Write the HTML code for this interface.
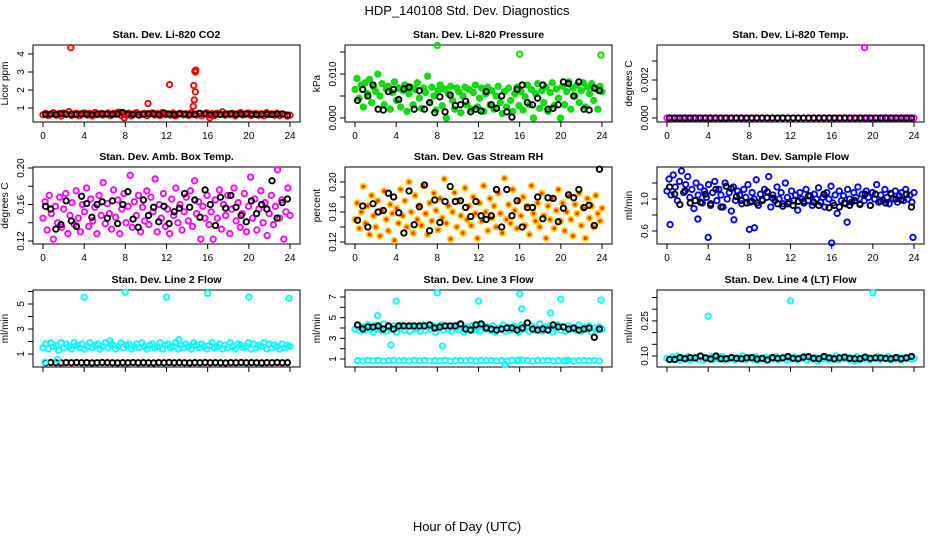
<!DOCTYPE html>
<html><head><meta charset="utf-8">
<style>
html,body{margin:0;padding:0;background:#fff;}
svg{display:block;font-family:"Liberation Sans",Arial,sans-serif;}
</style></head>
<body>
<svg id="chart" width="936" height="540" viewBox="0 0 936 540" xmlns="http://www.w3.org/2000/svg">
<rect width="936" height="540" fill="#fff"/>
<text x="467" y="15" font-size="13" text-anchor="middle">HDP_140108  Std. Dev. Diagnostics</text>
<text x="467" y="531" font-size="13" text-anchor="middle">Hour of Day (UTC)</text>
</svg>
<script>
// ---- data ----
const co2Red = [0.62,0.70,0.58,0.66,0.74,0.60,0.68,0.55,0.72,0.64,0.80,0.59,0.67,0.71,0.57,0.65,0.73,0.61,0.69,0.56,0.75,0.63,0.68,0.60,0.66,0.72,0.58,0.70,0.64,0.77,0.59,0.67,0.62,0.71,0.56,0.68,0.74,0.60,0.65,0.70,0.57,0.66,0.73,0.61,0.69,0.58,0.75,0.63,0.67,0.60,0.72,0.56,0.66,0.70,0.62,0.68,0.59,0.74,0.64,0.60,0.70,0.57,0.66,0.73,0.61,0.68,0.58,0.71,0.64,0.79,0.60,0.67,0.62,0.70,0.56,0.69,0.74,0.61,0.66,0.72,0.58,0.65,0.70,0.60,0.68,0.57,0.74,0.63,0.67,0.60,0.71,0.58,0.66,0.62,0.55,0.60];
const co2Black = [0.65,0.66,0.64,0.68,0.66,0.65,0.63,0.67,0.66,0.64,0.66,0.68,0.66,0.65,0.67,0.75,0.66,0.64,0.62,0.66,0.68,0.67,0.64,0.72,0.66,0.63,0.68,0.66,0.64,0.66,0.70,0.67,0.62,0.66,0.65,0.66,0.68,0.64,0.66,0.67,0.66,0.63,0.65,0.66,0.64,0.66,0.67,0.60];
const co2OutHours = [2.7,10.2,12.3,14.6,14.7,14.8,14.65,14.75,14.85,14.8,7.9,16.2];
const co2OutValues = [4.35,1.25,2.3,1.1,1.45,1.9,2.25,3.05,3.1,3.0,0.45,0.45];

const presGreen = [0.0065,0.0090,0.0045,0.0075,0.0025,0.0080,0.0055,0.0088,0.0035,0.0070,0.0060,0.0100,0.0050,0.0078,0.0030,0.0066,0.0072,0.0020,0.0058,0.0082,0.0040,0.0068,0.0025,0.0062,0.0075,0.0015,0.0055,0.0070,0.0030,0.0065,0.0080,0.0045,0.0022,0.0068,0.0058,0.0095,0.0035,0.0070,0.0050,0.0018,0.0062,0.0075,0.0028,0.0066,0.0000,0.0055,0.0072,0.0040,0.0020,0.0068,0.0060,0.0012,0.0050,0.0070,0.0030,0.0065,0.0020,0.0058,0.0075,0.0025,0.0045,0.0068,0.0015,0.0055,0.0070,0.0030,0.0062,0.0020,0.0050,0.0072,0.0035,0.0010,0.0060,0.0025,0.0068,0.0040,0.0015,0.0055,0.0070,0.0028,0.0060,0.0018,0.0048,0.0075,0.0030,0.0065,0.0000,0.0055,0.0078,0.0022,0.0062,0.0035,0.0070,0.0015,0.0058,0.0080,0.0028,0.0066,0.0045,0.0000,0.0072,0.0030,0.0060,0.0082,0.0020,0.0068,0.0050,0.0075,0.0035,0.0062,0.0080,0.0025,0.0070,0.0055,0.0078,0.0040,0.0066,0.0020,0.0072,0.0060];
const presBlack = [0.0040,0.0065,0.0050,0.0075,0.0020,0.0018,0.0060,0.0065,0.0042,0.0066,0.0070,0.0020,0.0062,0.0020,0.0035,0.0012,0.0048,0.0014,0.0052,0.0028,0.0030,0.0038,0.0014,0.0020,0.0016,0.0060,0.0030,0.0022,0.0050,0.0014,0.0002,0.0065,0.0075,0.0035,0.0030,0.0045,0.0075,0.0020,0.0022,0.0030,0.0082,0.0078,0.0050,0.0082,0.0020,0.0018,0.0068,0.0062];
const presOutHours = [8.0,16.0,23.9];
const presOutValues = [0.0165,0.0145,0.0143];

const tempMag = [0,0,0,0,0,0,0,0,0,0,0,0,0,0,0,0,0,0,0,0,0,0,0,0,0,0,0,0,0,0,0,0,0,0,0,0,0,0,0,0,0,0,0,0,0,0,0,0];
const tempBlack = [0,0,0,0,0,0,0,0,0,0,0,0,0,0,0,0,0,0,0,0,0,0,0,0,0,0,0,0,0,0,0,0,0,0,0,0,0,0,0,0,0,0,0,0,0,0,0,0];
const tempOutHours = [19.2];
const tempOutValues = [0.0037];

const ambMag = [0.145,0.163,0.132,0.170,0.150,0.122,0.158,0.140,0.168,0.135,0.155,0.172,0.128,0.148,0.162,0.138,0.175,0.145,0.130,0.160,0.152,0.178,0.136,0.166,0.142,0.157,0.128,0.170,0.148,0.184,0.139,0.161,0.150,0.133,0.176,0.146,0.165,0.128,0.155,0.172,0.140,0.158,0.192,0.135,0.163,0.148,0.170,0.130,0.157,0.142,0.175,0.138,0.168,0.152,0.188,0.130,0.160,0.145,0.172,0.136,0.155,0.128,0.166,0.148,0.178,0.140,0.160,0.132,0.152,0.168,0.142,0.175,0.136,0.186,0.150,0.163,0.122,0.158,0.145,0.170,0.138,0.152,0.122,0.165,0.145,0.176,0.133,0.160,0.148,0.170,0.128,0.155,0.178,0.142,0.162,0.135,0.150,0.172,0.130,0.158,0.190,0.145,0.166,0.132,0.155,0.175,0.140,0.162,0.126,0.150,0.170,0.138,0.158,0.198,0.145,0.165,0.122,0.152,0.178,0.148];
const ambBlack = [0.158,0.155,0.133,0.138,0.164,0.142,0.136,0.169,0.161,0.146,0.160,0.163,0.145,0.164,0.139,0.160,0.174,0.144,0.135,0.165,0.148,0.157,0.141,0.158,0.139,0.152,0.156,0.172,0.157,0.165,0.146,0.176,0.160,0.137,0.168,0.156,0.170,0.157,0.148,0.141,0.164,0.150,0.160,0.155,0.186,0.145,0.162,0.166];

const rhOrange = [0.150,0.172,0.138,0.160,0.194,0.145,0.168,0.130,0.182,0.155,0.140,0.175,0.128,0.162,0.188,0.150,0.135,0.170,0.158,0.122,0.165,0.145,0.190,0.155,0.175,0.140,0.200,0.160,0.132,0.182,0.150,0.168,0.142,0.195,0.158,0.130,0.172,0.148,0.185,0.162,0.136,0.178,0.152,0.204,0.145,0.168,0.124,0.160,0.186,0.140,0.175,0.155,0.132,0.192,0.150,0.168,0.142,0.180,0.158,0.125,0.172,0.148,0.195,0.160,0.135,0.178,0.152,0.168,0.140,0.185,0.158,0.132,0.205,0.150,0.170,0.145,0.190,0.162,0.138,0.175,0.155,0.180,0.142,0.168,0.130,0.195,0.158,0.148,0.172,0.140,0.185,0.155,0.125,0.168,0.150,0.178,0.138,0.162,0.190,0.148,0.172,0.135,0.160,0.182,0.150,0.128,0.170,0.158,0.185,0.142,0.165,0.125,0.178,0.152,0.168,0.140,0.182,0.158,0.148,0.165];
const rhBlack = [0.149,0.168,0.140,0.171,0.160,0.162,0.185,0.180,0.159,0.132,0.188,0.143,0.167,0.196,0.135,0.176,0.146,0.174,0.194,0.174,0.175,0.166,0.154,0.174,0.155,0.150,0.155,0.190,0.140,0.190,0.155,0.175,0.140,0.166,0.166,0.180,0.151,0.179,0.178,0.147,0.165,0.183,0.179,0.190,0.166,0.169,0.142,0.217];

const flowBlue = [1.10,1.25,1.05,1.30,1.15,0.98,1.22,1.35,1.08,1.18,1.28,1.02,1.12,0.88,1.20,1.05,1.15,0.95,1.10,1.02,1.18,0.92,1.08,1.22,0.98,1.12,1.05,0.90,1.20,1.00,1.08,0.85,1.15,0.98,1.10,1.05,0.94,1.12,1.02,1.18,0.96,1.08,1.00,1.24,0.92,1.06,0.98,1.12,1.02,1.28,0.90,1.05,0.98,1.15,1.00,1.08,0.94,1.20,1.02,0.96,1.10,0.98,1.05,0.86,1.08,1.00,0.95,1.12,0.98,1.04,0.92,1.06,1.00,1.14,0.96,1.02,0.90,1.08,1.00,1.16,0.95,1.05,0.82,1.10,0.98,1.04,0.94,1.12,1.00,0.96,1.08,1.02,1.15,0.94,1.06,0.98,1.10,1.02,0.92,1.08,1.00,1.18,0.96,1.05,0.98,1.12,1.02,0.94,1.06,1.00,1.10,0.96,1.04,1.08,0.98,1.12,1.00,1.05,0.96,1.08];
const flowBlack = [1.15,1.06,0.93,1.10,0.95,0.98,0.96,1.06,0.94,1.12,0.90,1.16,1.13,1.03,0.98,0.95,0.97,0.95,0.99,1.09,1.01,0.94,0.91,0.94,0.92,0.97,0.97,1.04,0.96,0.92,1.06,0.89,0.92,0.90,0.95,0.92,0.98,0.93,1.06,0.92,1.06,0.97,0.95,1.07,1.00,0.99,1.06,0.90];
const flowOutHours = [0.3,4.0,8.0,8.5,16.0,17.5,23.9,3.0,6.5];
const flowOutValues = [0.68,0.52,0.62,0.64,0.45,0.71,0.52,0.75,0.74];

const l2Band = [1.5,1.8,1.4,1.9,1.6,1.7,1.3,1.9,1.5,1.8,1.6,1.4,1.9,1.7,1.5,1.8,1.4,1.6,1.9,1.5,1.7,1.8,1.4,1.6,1.9,1.5,1.8,1.7,1.4,1.6,1.9,1.5,1.7,1.8,1.4,1.6,1.8,1.5,1.9,1.6,1.4,1.7,1.8,1.5,1.6,1.9,1.4,1.7,1.8,1.5,1.6,1.9,1.4,1.7,1.5,1.8,1.6,1.4,1.9,1.7,1.5,1.8,1.6,1.4,1.7,1.9,1.5,1.6,1.8,1.4,1.7,1.5,1.9,1.6,1.4,1.8,1.7,1.5,1.6,1.9,1.4,1.8,1.5,1.7,1.6,1.9,1.4,1.8,1.5,1.7,1.6,1.4,1.8,1.5,1.7,1.6];
const l2Black = [0.30,0.32,0.30,0.29,0.31,0.30,0.32,0.30,0.31,0.29,0.30,0.32,0.31,0.30,0.29,0.31,0.30,0.32,0.30,0.31,0.30,0.29,0.31,0.30,0.32,0.30,0.31,0.30,0.29,0.31,0.30,0.32,0.30,0.31,0.30,0.29,0.31,0.30,0.32,0.30,0.31,0.30,0.29,0.31,0.30,0.32,0.30,0.31];
const l2OutHours = [4.0,8.0,12.0,16.0,20.0,23.9,6.5,13.2,0.2,1.4];
const l2OutValues = [5.55,5.95,5.55,5.85,5.55,5.45,2.05,2.15,0.35,0.55];

const l3Band = [3.9,4.2,3.7,4.1,3.8,4.3,3.9,3.6,4.2,4.0,3.8,4.4,3.7,4.1,3.9,4.2,3.6,4.0,4.3,3.8,4.1,3.7,4.2,3.9,4.0,3.7,4.3,3.8,4.1,3.9,4.2,3.6,4.0,4.3,3.8,4.1,3.9,3.7,4.2,4.0,3.8,4.3,3.6,4.1,3.9,4.2,3.8,4.0,3.7,4.3,3.9,4.1,3.8,4.2,3.6,4.0,3.9,4.3,3.7,4.1,3.8,4.2,4.0,3.6,4.3,3.9,4.1,3.7,4.2,3.8,4.0,4.4,3.7,4.1,3.9,4.2,3.6,4.0,4.3,3.8,4.1,3.7,4.2,3.9,4.0,3.8,4.3,3.7,4.1,3.9,4.2,3.6,4.0,3.8,4.1,3.9];
const l3Low = [0.85,0.80,0.88,0.82,0.86,0.80,0.84,0.88,0.82,0.85,0.80,0.86,0.83,0.88,0.81,0.85,0.82,0.87,0.80,0.84,0.86,0.82,0.88,0.80,0.85,0.83,0.87,0.81,0.85,0.80,0.86,0.82,0.88,0.84,0.80,0.86,0.83,0.87,0.81,0.85,0.82,0.88,0.80,0.84,0.86,0.82,0.87,0.81];
const l3Black = [4.3,3.9,4.1,4.1,4.2,3.9,4.2,3.9,4.2,4.2,4.2,4.2,4.2,4.2,4.3,4.0,4.1,4.2,4.2,4.2,4.4,3.9,3.8,4.3,4.4,4.0,3.9,3.8,3.9,4.0,4.0,3.8,4.0,4.5,3.9,3.8,3.9,3.8,4.3,4.1,4.1,3.9,4.0,3.8,3.9,4.0,3.1,3.9];
const l3OutHours = [2.2,3.5,4.0,8.0,8.5,12.0,16.0,16.2,19.0,20.0,23.9,14.6,20.5,15.9];
const l3OutValues = [5.2,2.35,6.6,7.4,2.25,6.6,7.3,5.85,5.45,6.8,6.7,0.45,0.85,0.9];

const l4Band = [0.090,0.085,0.095,0.088,0.100,0.082,0.092,0.087,0.097,0.084,0.090,0.094,0.086,0.099,0.083,0.091,0.088,0.096,0.085,0.092,0.089,0.098,0.084,0.090,0.087,0.095,0.083,0.092,0.088,0.100,0.085,0.091,0.094,0.086,0.097,0.082,0.090,0.088,0.095,0.084,0.092,0.087,0.098,0.085,0.091,0.094,0.083,0.090,0.088,0.096,0.085,0.092,0.089,0.099,0.083,0.091,0.087,0.095,0.078,0.090,0.088,0.097,0.084,0.092,0.086,0.100,0.083,0.090,0.088,0.095,0.085,0.092,0.078,0.097,0.084,0.091,0.087,0.094,0.083,0.090,0.088,0.096,0.085,0.092,0.089,0.098,0.084,0.090,0.087,0.095,0.083,0.091,0.088,0.094,0.086,0.090];
const l4Black = [0.085,0.085,0.093,0.088,0.093,0.092,0.100,0.092,0.087,0.100,0.088,0.088,0.093,0.090,0.088,0.092,0.093,0.087,0.090,0.083,0.093,0.090,0.092,0.098,0.090,0.088,0.095,0.097,0.090,0.088,0.098,0.092,0.088,0.092,0.095,0.090,0.088,0.088,0.095,0.090,0.092,0.092,0.090,0.088,0.093,0.088,0.092,0.098];
const l4OutHours = [4.0,12.0,20.0];
const l4OutValues = [0.27,0.335,0.37];

const xTicks = [0,4,8,12,16,20,24];

// ---- drawing ----
const NS = 'http://www.w3.org/2000/svg';
const svg = document.getElementById('chart');
const colLeft = [33,345,657];
const rowTop = [45,167,290];
const BW = 267, BH = 77;

function mk(tag, attrs, parent) {
  const e = document.createElementNS(NS, tag);
  for (const k in attrs) e.setAttribute(k, attrs[k]);
  (parent || svg).appendChild(e);
  return e;
}

function panel(p) {
  const L = colLeft[p.col], T = rowTop[p.row], R = L + BW, B = T + BH;
  const g = mk('g', {});
  
  
  const xs = h => L + 10 + h * (BW - 20) / 24;
  const ys = v => B - (v - p.yMin) / (p.yMax - p.yMin) * BH;
  const box = mk('rect', {x: L, y: T, width: BW, height: BH, fill: 'none', stroke: '#000', 'stroke-width': 1}, g);
  
  
  const t = mk('text', {x: L + BW / 2, y: T - 7, 'font-size': 10.5, 'font-weight': 'bold', 'text-anchor': 'middle'}, g);
  t.textContent = p.title;
  
  
  const yl = mk('text', {x: L - 25, y: T + BH / 2, 'font-size': 10, 'text-anchor': 'middle', transform: `rotate(-90 ${L - 25} ${T + BH / 2})`}, g);
  yl.textContent = p.ylab;
  
  
  xTicks.forEach(h => {
    const tk = mk('line', {x1: xs(h), x2: xs(h), y1: B, y2: B + 5, stroke: '#000'}, g);
    
    
    if (p.row < 2) {
      const lb = mk('text', {x: xs(h), y: B + 17, 'font-size': 10, 'text-anchor': 'middle'}, g);
      lb.textContent = h;
      
      
    }
  });
  p.ticks.forEach((v, i) => {
    const y = ys(v);
    const tk = mk('line', {x1: L - 5, x2: L, y1: y, y2: y, stroke: '#000'}, g);
    
    
    if (p.labels[i] !== '') {
      const lb = mk('text', {x: L - 9, y: y, 'font-size': 10, 'text-anchor': 'middle', transform: `rotate(-90 ${L - 9} ${y})`}, g);
      lb.textContent = p.labels[i];
      
      
    }
  });
  p.series.forEach(s => {
    const n = s.vals.length;
    s.vals.forEach((v, i) => {
      const h = s.hours ? s.hours[i] : (s.offset ? (i + 0.5) * 24 / n : i * 24 / (n - 1));
      const c = mk('circle', {cx: xs(h), cy: ys(v), r: 2.7, fill: s.fill || 'none', stroke: s.color, 'stroke-width': 1.9}, g);
      
      
    });
  });
}

panel({name:'co2', col:0, row:0, title:'Stan. Dev. Li-820 CO2', ylab:'Licor ppm', yMin:0.222, yMax:4.5,
  ticks:[1,2,3,4], labels:['1','2','3','4'],
  series:[{vals:co2Red, color:'#ff0000', label:'co2-red'},{vals:co2Black, color:'#000', offset:true, label:'co2-black'},{vals:co2OutValues, hours:co2OutHours, color:'#ff0000', label:'co2-outlier'}]});
panel({name:'pressure', col:1, row:0, title:'Stan. Dev. Li-820 Pressure', ylab:'kPa', yMin:-0.000909, yMax:0.01659,
  ticks:[0,0.005,0.010,0.015], labels:['0.000','','0.010',''],
  series:[{vals:presGreen, color:'#00e000', fill:'#33cc33', label:'pressure-green'},{vals:presBlack, color:'#000', offset:true, label:'pressure-black'},{vals:presOutValues, hours:presOutHours, color:'#00e000', label:'pressure-outlier'}]});
panel({name:'li820-temp', col:2, row:0, title:'Stan. Dev. Li-820 Temp.', ylab:'degrees C', yMin:-0.000211, yMax:0.003842,
  ticks:[0,0.001,0.002,0.003], labels:['0.000','','0.002',''],
  series:[{vals:tempMag, color:'#ff00ff', label:'temp-magenta'},{vals:tempBlack, color:'#000', offset:true, label:'temp-black'},{vals:tempOutValues, hours:tempOutHours, color:'#ff00ff', label:'temp-outlier'}]});
panel({name:'amb-box-temp', col:0, row:1, title:'Stan. Dev. Amb. Box Temp.', ylab:'degrees C', yMin:0.11671, yMax:0.2011,
  ticks:[0.12,0.14,0.16,0.18,0.20], labels:['0.12','','0.16','','0.20'],
  series:[{vals:ambMag, color:'#ff00ff', label:'amb-magenta'},{vals:ambBlack, color:'#000', offset:true, label:'amb-black'}]});
panel({name:'gas-rh', col:1, row:1, title:'Stan. Dev. Gas Stream RH', ylab:'percent', yMin:0.11733, yMax:0.22,
  ticks:[0.12,0.14,0.16,0.18,0.20], labels:['0.12','','0.16','','0.20'],
  series:[{vals:rhOrange, color:'#ffcc00', fill:'#ff3300', label:'rh-orange'},{vals:rhBlack, color:'#000', offset:true, label:'rh-black'}]});
panel({name:'sample-flow', col:2, row:1, title:'Stan. Dev. Sample Flow', ylab:'ml/min', yMin:0.4375, yMax:1.4,
  ticks:[0.6,0.8,1.0,1.2], labels:['0.6','','1.0',''],
  series:[{vals:flowBlue, color:'#0000ff', label:'flow-blue'},{vals:flowBlack, color:'#000', offset:true, label:'flow-black'},{vals:flowOutValues, hours:flowOutHours, color:'#0000ff', label:'flow-outlier'}]});
panel({name:'line2-flow', col:0, row:2, title:'Stan. Dev. Line 2 Flow', ylab:'ml/min', yMin:-0.04, yMax:6.12,
  ticks:[1,2,3,4,5,6], labels:['1','','3','','5',''],
  series:[{vals:l2Band, color:'#00ffff', label:'line2-cyan'},{vals:l2Black, color:'#000', offset:true, label:'line2-black'},{vals:l2OutValues, hours:l2OutHours, color:'#00ffff', label:'line2-outlier'}]});
panel({name:'line3-flow', col:1, row:2, title:'Stan. Dev. Line 3 Flow', ylab:'ml/min', yMin:0.226, yMax:7.68,
  ticks:[1,2,3,4,5,6,7], labels:['1','','3','','5','','7'],
  series:[{vals:l3Band, color:'#00ffff', label:'line3-cyan'},{vals:l3Low, color:'#00ffff', offset:true, label:'line3-cyan-low'},{vals:l3Black, color:'#000', offset:true, label:'line3-black'},{vals:l3OutValues, hours:l3OutHours, color:'#00ffff', label:'line3-outlier'}]});
panel({name:'line4-flow', col:2, row:2, title:'Stan. Dev. Line 4 (LT) Flow', ylab:'ml/min', yMin:0.053, yMax:0.382,
  ticks:[0.10,0.15,0.20,0.25,0.30,0.35], labels:['0.10','','','0.25','',''],
  series:[{vals:l4Band, color:'#00ffff', label:'line4-cyan'},{vals:l4Black, color:'#000', offset:true, label:'line4-black'},{vals:l4OutValues, hours:l4OutHours, color:'#00ffff', label:'line4-outlier'}]});
</script>
</body></html>
